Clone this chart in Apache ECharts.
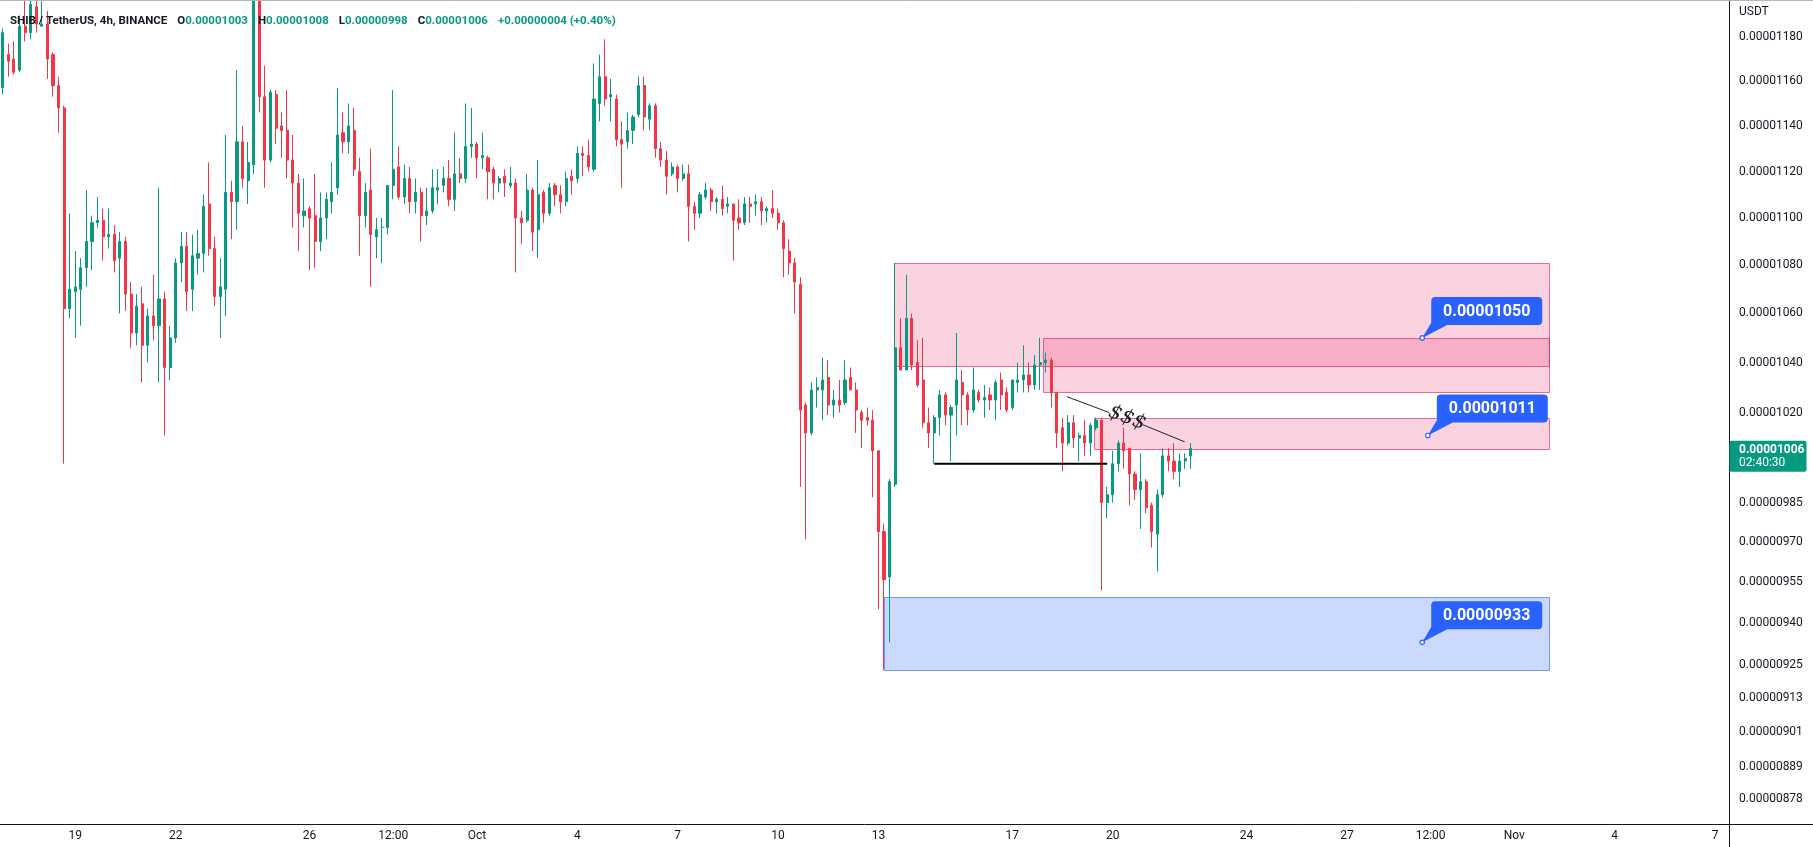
<!DOCTYPE html>
<html>
<head>
<meta charset="utf-8">
<script src="https://cdn.jsdelivr.net/npm/echarts@6/dist/echarts.min.js"></script>
<style>
html,body{margin:0;padding:0;background:#ffffff;}
#chart{width:1813px;height:847px;}
</style>
</head>
<body>
<div id="chart"></div>
<script>
// ---- DATA (prices in units of 1e-8 USDT; SHIB/USDT 4h candles, first candle Sep 16 20:00) ----
const UNIT = 1e-8;
const open = [1157,1172,1170,1165,1185,1182,1194,1185,1186,1172,
1158,1148,1062,1069,1070,1079,1090,1098,1099,1092,
1093,1083,1090,1068,1052,1064,1047,1059,1055,1066,
1038,1050,1081,1088,1070,1083,1085,1106,1087,1067,
1070,1111,1107,1133,1116,1123,1208,1153,1125,1154,
1140,1138,1125,1115,1101,1104,1101,1090,1100,1107,
1113,1137,1133,1138,1120,1101,1112,1092,1096,1096,
1114,1122,1109,1117,1107,1111,1101,1103,1112,1114,
1117,1108,1119,1117,1131,1132,1126,1126,1121,1115,
1118,1114,1115,1100,1099,1112,1095,1111,1102,1114,
1110,1107,1118,1117,1128,1127,1121,1150,1162,1153,
1152,1134,1133,1138,1145,1158,1143,1149,1130,1125,
1119,1122,1117,1119,1105,1102,1109,1112,1107,1108,
1105,1106,1100,1098,1106,1106,1107,1103,1104,1102,
1098,1086,1081,1072,1023,1012,1029,1029,1034,1023,
1025,1024,1034,1029,1020,1018,1017,1005,974,957,
992,1046,1037,1058,1040,1033,1016,1012,1018,1027,
1019,1023,1032,1027,1021,1028,1025,1027,1025,1033,
1028,1022,1032,1033,1035,1031,1039,1040,1041,1028,
1014,1008,1016,1010,1011,1008,1014,1017,985,988,
1000,1008,1006,996,990,993,984,973,988,1003,
1001,997,1001,1003];
const high = [1184,1177,1178,1190,1199,1200,1199,1198,1192,1173,
1162,1149,1102,1086,1083,1112,1101,1109,1104,1104,
1097,1094,1092,1073,1068,1071,1062,1076,1113,1069,
1055,1083,1094,1094,1093,1095,1110,1124,1092,1083,
1136,1116,1165,1140,1133,1215,1212,1167,1156,1156,
1146,1156,1136,1119,1117,1105,1119,1111,1111,1124,
1157,1146,1150,1148,1126,1115,1130,1100,1100,1114,
1156,1131,1123,1122,1117,1113,1113,1121,1121,1122,
1125,1137,1126,1150,1148,1133,1137,1127,1122,1118,
1121,1122,1117,1103,1119,1113,1125,1112,1115,1115,
1114,1120,1121,1131,1131,1134,1168,1172,1179,1161,
1154,1142,1146,1145,1162,1162,1150,1150,1133,1129,
1124,1123,1123,1123,1107,1111,1115,1113,1109,1114,
1109,1106,1108,1109,1109,1110,1109,1105,1112,1104,
1099,1091,1083,1075,1024,1032,1034,1042,1041,1029,
1033,1041,1038,1032,1021,1022,1021,1005,977,994,
1081,1058,1076,1060,1049,1050,1022,1019,1029,1028,
1023,1052,1037,1028,1038,1029,1031,1030,1033,1036,
1030,1033,1040,1047,1040,1043,1050,1044,1042,1028,
1018,1019,1019,1012,1017,1016,1018,1018,991,1005,
1009,1014,1006,997,1004,994,985,990,1006,1006,
1008,1004,1004,1008];
const low = [1154,1162,1163,1164,1178,1179,1182,1185,1161,1153,
1137,1000,1058,1050,1055,1071,1078,1096,1082,1087,
1077,1060,1061,1046,1047,1032,1040,1049,1032,1011,
1033,1048,1073,1061,1061,1076,1077,1084,1063,1050,
1059,1091,1095,1113,1106,1119,1146,1113,1124,1132,
1126,1117,1096,1086,1096,1078,1079,1086,1091,1102,
1110,1128,1128,1118,1084,1096,1071,1083,1081,1093,
1108,1108,1106,1102,1102,1090,1097,1102,1106,1111,
1105,1103,1115,1115,1126,1117,1121,1108,1108,1111,
1109,1113,1077,1089,1098,1086,1083,1098,1101,1105,
1102,1105,1110,1115,1118,1120,1120,1142,1149,1142,
1131,1113,1130,1132,1144,1138,1138,1126,1122,1110,
1118,1111,1116,1090,1095,1100,1108,1103,1102,1101,
1102,1082,1095,1097,1098,1101,1097,1098,1100,1095,
1075,1076,1060,991,971,1011,1022,1017,1019,1018,
1020,1023,1029,1012,1006,1015,987,945,923,933,
991,1037,1037,1037,1030,1014,1006,1000,1011,1015,
1001,1011,1015,1015,1020,1024,1018,1021,1017,1021,
1020,1021,1028,1028,1028,1029,1029,1036,1022,1006,
997,1007,1006,1001,1003,1003,1013,952,979,985,
997,998,984,986,975,981,968,959,987,997,
994,991,998,998];
const close = [1182,1169,1164,1185,1182,1195,1186,1186,1170,1158,
1148,1062,1070,1071,1079,1090,1098,1099,1092,1093,
1082,1090,1068,1052,1063,1047,1059,1055,1066,1038,
1050,1081,1088,1069,1084,1085,1105,1087,1067,1071,
1111,1107,1133,1117,1124,1208,1153,1125,1155,1139,
1138,1125,1115,1102,1103,1100,1090,1100,1108,1111,
1136,1133,1140,1121,1101,1111,1093,1095,1096,1114,
1121,1109,1117,1107,1111,1101,1103,1113,1113,1117,
1108,1119,1117,1131,1132,1126,1127,1120,1115,1117,
1115,1115,1100,1098,1112,1094,1110,1102,1113,1110,
1107,1117,1116,1128,1127,1122,1152,1162,1152,1154,
1134,1132,1138,1144,1158,1144,1149,1130,1125,1118,
1122,1117,1119,1105,1102,1110,1112,1107,1108,1104,
1106,1099,1098,1106,1105,1107,1103,1104,1102,1098,
1087,1081,1073,1021,1012,1029,1030,1033,1023,1025,
1023,1033,1029,1021,1017,1017,1005,974,956,993,
1046,1037,1058,1039,1031,1016,1012,1018,1027,1019,
1022,1033,1027,1021,1029,1025,1026,1025,1032,1027,
1021,1033,1033,1035,1031,1039,1040,1041,1028,1012,
1008,1016,1010,1011,1008,1015,1017,985,988,1000,
1008,1005,996,990,993,983,974,988,1003,1001,
997,1001,1002,1006];

// time axis: 4h slots
const SLOTS = 310;
const FIRST_SLOT = Date.UTC(2022, 8, 16, 20, 0, 0);
const tickIndex = [13,31,55,70,85,103,121,139,157,181,199,223,241,256,271,289,307];
const tickText  = ['19','22','26','12:00','Oct','4','7','10','13','17','20','24','27','12:00','Nov','4','7'];

// price axis (log scale) labels, units of 1e-8
const priceTicks = [1180,1160,1140,1120,1100,1080,1060,1040,1020,985,970,955,940,925,913,901,889,878];
const priceMin = 869.5, priceMax = 1197.1;

// zones: [fromSlot, toSlot, topPrice, bottomPrice, kind(0 supply/pink, 1 demand/blue)]
const zones = [
  [159.8, 277.2, 1080.8, 1038.3, 0],
  [186.5, 277.2, 1050.0, 1028.1, 0],
  [195.6, 277.2, 1018.0, 1006.0, 0],
  [158.0, 277.2, 949.5, 923.1, 1]
];
// callouts: [slot, price]
const callouts = [[254.5, 1050], [255.5, 1011], [254.5, 933]];
// support line (equal lows)
const supportLine = [[167, 1000], [198, 1000]];
// liquidity ("$$$") trend line pieces
const liqLine1 = [[190.8, 1026.3], [198.4, 1020.0]];
const liqLine2 = [[204.4, 1015.2], [211.9, 1008.5]];
const liqText = [201.6, 1017.9, '$$$'];
const countdown = '02:40:30';

// ---- BUILD ----
const L = Math.log;
const pad = n => String(n).padStart(2, '0');
const categories = [];
const labelByCat = {};
for (let i = 0; i < SLOTS; i++) {
  const d = new Date(FIRST_SLOT + i * 4 * 3600 * 1000);
  const s = d.getUTCFullYear() + '-' + pad(d.getUTCMonth() + 1) + '-' + pad(d.getUTCDate()) + ' ' + pad(d.getUTCHours()) + ':00';
  categories.push(s);
}
tickIndex.forEach((ix, k) => { labelByCat[categories[ix]] = tickText[k]; });

const candleData = open.map((o, i) => [L(o), L(close[i]), L(low[i]), L(high[i])]);
const fmt = p => (p * UNIT).toFixed(8);

const last = open.length - 1;
const chg = close[last] - close[last - 1];
const chgPct = (chg / close[last - 1] * 100).toFixed(2);

const GREEN = '#089981', RED = '#F23645', TXT = '#131722';
const FONT = 'Roboto, "Liberation Sans", sans-serif';
const HF = 11.5;

const chart = echarts.init(document.getElementById('chart'), null, {renderer: 'canvas'});

const option = {
  animation: false,
  backgroundColor: '#ffffff',
  title: {
    left: 5, top: 7,
    text: '{t|SHIB / TetherUS, 4h, BINANCE}  {k|O}{v|' + fmt(open[last]) + '}  {k|H}{v|' + fmt(high[last]) +
          '}  {k|L}{v|' + fmt(low[last]) + '}  {k|C}{v|' + fmt(close[last]) + '}  {v|' +
          (chg >= 0 ? '+' : '') + fmt(chg) + ' (' + (chg >= 0 ? '+' : '') + chgPct + '%)}',
    textStyle: {
      rich: {
        t: {color: TXT, fontSize: HF, fontFamily: FONT},
        k: {color: TXT, fontSize: HF, fontFamily: FONT},
        v: {color: GREEN, fontSize: HF, fontFamily: FONT}
      }
    }
  },
  grid: {left: -2.5, top: 0, width: 1731.5, height: 824, containLabel: false},
  xAxis: [
    {
      type: 'category', data: categories, boundaryGap: true,
      axisLine: {onZero: false, lineStyle: {color: TXT, width: 1}},
      axisTick: {show: false},
      splitLine: {show: false},
      axisLabel: {
        interval: (idx, val) => labelByCat[val] !== undefined,
        formatter: (val) => labelByCat[val] || '',
        color: TXT, fontSize: 12, fontFamily: FONT, margin: 6
      }
    },
    {
      type: 'value', min: -0.5, max: SLOTS - 0.5, show: false,
      axisLine: {onZero: false}
    }
  ],
  yAxis: {
    type: 'value', position: 'right',
    min: L(priceMin), max: L(priceMax),
    axisLine: {show: true, onZero: false, lineStyle: {color: TXT, width: 1}},
    axisTick: {show: false},
    splitLine: {show: false},
    axisLabel: {
      customValues: priceTicks.map(p => L(p)),
      formatter: v => fmt(Math.round(Math.exp(v))),
      color: TXT, fontSize: 12, fontFamily: FONT, margin: 10
    }
  },
  graphic: [
    {type: 'line', shape: {x1: 0, y1: 0.5, x2: 1813, y2: 0.5}, style: {stroke: '#B2B5BE', lineWidth: 1}, z: 10},
    {type: 'line', shape: {x1: 1729, y1: 824.5, x2: 1813, y2: 824.5}, style: {stroke: TXT, lineWidth: 1}, z: 10},
    {type: 'line', shape: {x1: 1729.5, y1: 824, x2: 1729.5, y2: 847}, style: {stroke: TXT, lineWidth: 1}, z: 10},
    {type: 'text', x: 1739, y: 6, style: {text: 'USDT', fill: TXT, font: '12px ' + FONT}, z: 10}
  ],
  series: [
    {
      type: 'custom', name: 'zones', xAxisIndex: 1, yAxisIndex: 0, z: 1,
      data: zones,
      renderItem: (params, api) => {
        const p0 = api.coord([api.value(0), L(api.value(2))]);
        const p1 = api.coord([api.value(1), L(api.value(3))]);
        const blue = api.value(4) === 1;
        return {
          type: 'rect',
          shape: {x: Math.round(p0[0]) + 0.5, y: Math.round(p0[1]) + 0.5, width: Math.round(p1[0] - p0[0]), height: Math.round(p1[1] - p0[1])},
          style: {
            fill: blue ? 'rgba(41,98,255,0.24)' : 'rgba(233,30,99,0.2)',
            stroke: blue ? 'rgba(41,98,255,0.6)' : 'rgba(233,30,99,0.65)',
            lineWidth: 1
          }
        };
      },
      silent: true
    },
    {
      type: 'candlestick', name: 'SHIB/USDT', xAxisIndex: 0, yAxisIndex: 0, z: 3,
      data: candleData, barWidth: 2.6, clip: true,
      itemStyle: {color: GREEN, color0: RED, borderColor: GREEN, borderColor0: RED, borderWidth: 1}
    },
    {
      type: 'line', xAxisIndex: 1, yAxisIndex: 0, z: 4, symbol: 'none', silent: true,
      data: supportLine.map(p => [p[0], L(p[1])]),
      lineStyle: {color: '#000000', width: 2}
    },
    {
      type: 'line', xAxisIndex: 1, yAxisIndex: 0, z: 4, symbol: 'none', silent: true,
      data: liqLine1.map(p => [p[0], L(p[1])]),
      lineStyle: {color: '#222222', width: 1}
    },
    {
      type: 'line', xAxisIndex: 1, yAxisIndex: 0, z: 4, symbol: 'none', silent: true,
      data: liqLine2.map(p => [p[0], L(p[1])]),
      lineStyle: {color: '#222222', width: 1}
    },
    {
      type: 'custom', name: 'liq', xAxisIndex: 1, yAxisIndex: 0, z: 5, silent: true,
      data: [liqText],
      renderItem: (params, api) => {
        const p = api.coord([api.value(0), L(api.value(1))]);
        const a = api.coord([liqLine1[0][0], L(liqLine1[0][1])]);
        const b = api.coord([liqLine2[1][0], L(liqLine2[1][1])]);
        const ang = Math.atan2(b[1] - a[1], b[0] - a[0]);
        return {
          type: 'text', x: p[0], y: p[1], rotation: -ang,
          style: {text: liqText[2], fill: '#131722', font: 'italic 20px "DejaVu Serif", serif', align: 'center', verticalAlign: 'middle'}
        };
      }
    },
    {
      type: 'custom', name: 'callouts', xAxisIndex: 1, yAxisIndex: 0, z: 6, silent: true, clip: false,
      data: callouts,
      renderItem: (params, api) => {
        const price = api.value(1);
        const p = api.coord([api.value(0), L(price)]);
        const bx = p[0] + 9, by = p[1] - 41, w = 111, h = 28;
        return {
          type: 'group',
          children: [
            {type: 'polygon', shape: {points: [[bx + 1, by + h - 4], [bx + 16, by + h], [p[0], p[1]]]}, style: {fill: '#2962FF'}},
            {type: 'rect', shape: {x: bx, y: by, width: w, height: h, r: 4}, style: {fill: '#2962FF'}},
            {type: 'text', style: {text: fmt(price), x: bx + w / 2, y: by + h / 2 + 1, align: 'center', verticalAlign: 'middle', fill: '#ffffff', font: 'bold 16px ' + FONT}},
            {type: 'circle', shape: {cx: p[0], cy: p[1], r: 2.2}, style: {fill: '#ffffff', stroke: '#2962FF', lineWidth: 1.2}}
          ]
        };
      }
    },
    {
      type: 'custom', name: 'lastPrice', xAxisIndex: 1, yAxisIndex: 0, z: 7, silent: true, clip: false,
      data: [[last, close[last]]],
      renderItem: (params, api) => {
        const p = api.coord([api.value(0), L(api.value(1))]);
        const x0 = params.coordSys.x + params.coordSys.width;
        return {
          type: 'group',
          children: [
            {type: 'rect', shape: {x: x0 + 0.5, y: p[1] - 7.5, width: 77, height: 31, r: 2}, style: {fill: GREEN}},
            {type: 'text', style: {text: fmt(api.value(1)), x: x0 + 10, y: p[1] + 2, verticalAlign: 'middle', fill: '#ffffff', font: 'bold 12px ' + FONT}},
            {type: 'text', style: {text: countdown, x: x0 + 10, y: p[1] + 15, verticalAlign: 'middle', fill: '#ffffff', font: '12px ' + FONT}}
          ]
        };
      }
    }
  ]
};
chart.setOption(option);
</script>
</body>
</html>
